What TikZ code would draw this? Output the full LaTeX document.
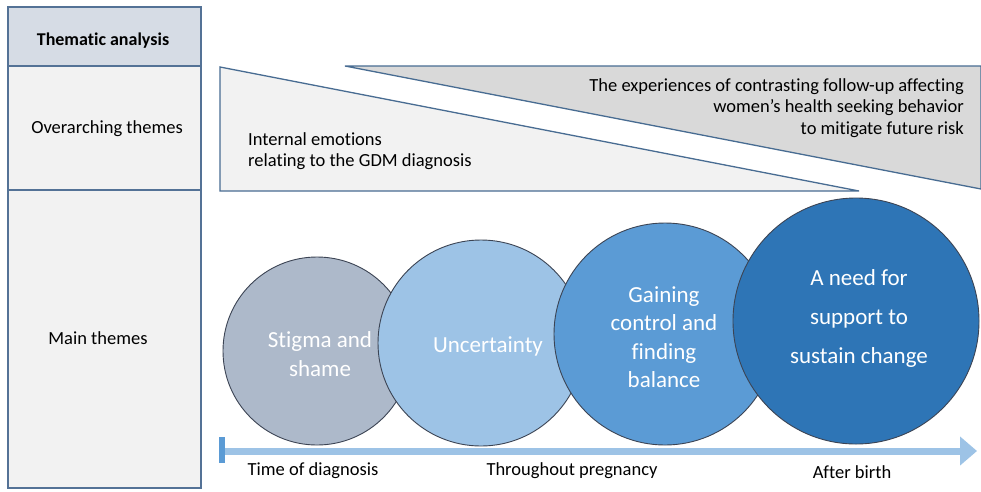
\documentclass[tikz,border=0pt]{standalone}
\usepackage{fontspec}
\setmainfont[Ligatures=NoCommon]{Carlito}
\usetikzlibrary{arrows.meta}
\definecolor{tblborder}{RGB}{84,114,150}
\definecolor{tblhead}{RGB}{214,220,229}
\definecolor{tblfill}{RGB}{242,242,242}
\definecolor{triA}{RGB}{242,242,242}
\definecolor{triB}{RGB}{217,217,217}
\definecolor{triedge}{RGB}{72,108,146}
\definecolor{cA}{RGB}{173,185,202}
\definecolor{cB}{RGB}{157,195,230}
\definecolor{cC}{RGB}{91,155,213}
\definecolor{cD}{RGB}{46,117,182}
\definecolor{cedge}{RGB}{60,68,84}
\definecolor{arrowblue}{RGB}{157,195,230}
\definecolor{barblue}{RGB}{91,155,213}
\tikzset{
  cell/.style={draw=tblborder, line width=1.3pt},
  rowlabel/.style={font=\fontsize{18.5}{22}\selectfont, text=black},
  theme/.style={circle, draw=cedge, line width=0.9pt, inner sep=0pt},
  themetext/.style={align=center, text=white, inner sep=0pt},
  tri/.style={draw=triedge, line width=1.3pt, line join=miter},
  tritext/.style={font=\fontsize{18.5}{21.5}\selectfont, text=black, inner sep=0pt},
  timelabel/.style={font=\fontsize{18.5}{22}\selectfont, text=black}
}
\begin{document}
\begin{tikzpicture}[x=1pt,y=-1pt]
\useasboundingbox[fill=white] (0,0) rectangle (981,491);
% left table
\draw[cell, fill=tblhead] (8,7) rectangle (201,66);
\draw[cell, fill=tblfill] (8,66) rectangle (201,190);
\draw[cell, fill=tblfill] (8,190) rectangle (201,488);
\node[rowlabel, font=\fontsize{18}{22}\selectfont\bfseries] (thead) at (103,41) {Thematic analysis};
\node[rowlabel] (over) at (107,129) {Overarching themes};
\node[rowlabel] (main) at (98,338) {Main themes};
% triangles
\draw[tri, fill=triB] (345,66) -- (981,66) -- (981,189) -- cycle;
\draw[tri, fill=triA] (220,67) -- (859,191) -- (220,191) -- cycle;
\node[tritext, anchor=west, align=left] (internal) at (248,151) {Internal emotions\\relating to the GDM diagnosis};
\node[tritext, anchor=east, align=right] (contrast) at (964,108) {The experiences of contrasting follow-up affecting\\women’s health seeking behavior\\to mitigate future risk};
% circles
\node[theme, fill=cA, minimum size=188pt] (stigma) at (317,351) {};
\node[themetext, font=\fontsize{23}{29}\selectfont] (stigmat) at (320,354) {Stigma and\\shame};
\node[theme, fill=cB, minimum size=206pt] (uncert) at (481,343) {};
\node[themetext, font=\fontsize{23}{29}\selectfont] (uncertt) at (488,346) {Uncertainty};
\node[theme, fill=cC, minimum size=222pt] (gain) at (665,334) {};
\node[themetext, font=\fontsize{23}{28.5}\selectfont] (gaint) at (664,337) {Gaining\\control and\\finding\\balance};
\node[theme, fill=cD, minimum size=246pt] (support) at (856,321) {};
\node[themetext, font=\fontsize{23}{39}\selectfont] (supportt) at (859,318) {A need for\\support to\\sustain change};
% timeline
\coordinate (tstart) at (222,451);
\coordinate (tend) at (977,451);
\draw[arrowblue, line width=7pt, -{Triangle[length=17pt,width=28pt]}] (tstart) -- (tend);
\fill[barblue] (219,437) rectangle (225,463);
\node[timelabel] (tdiag) at (313,471) {Time of diagnosis};
\node[timelabel] (tpreg) at (572,471) {Throughout pregnancy};
\node[timelabel] (tbirth) at (852,472) {After birth};
\end{tikzpicture}
\end{document}
